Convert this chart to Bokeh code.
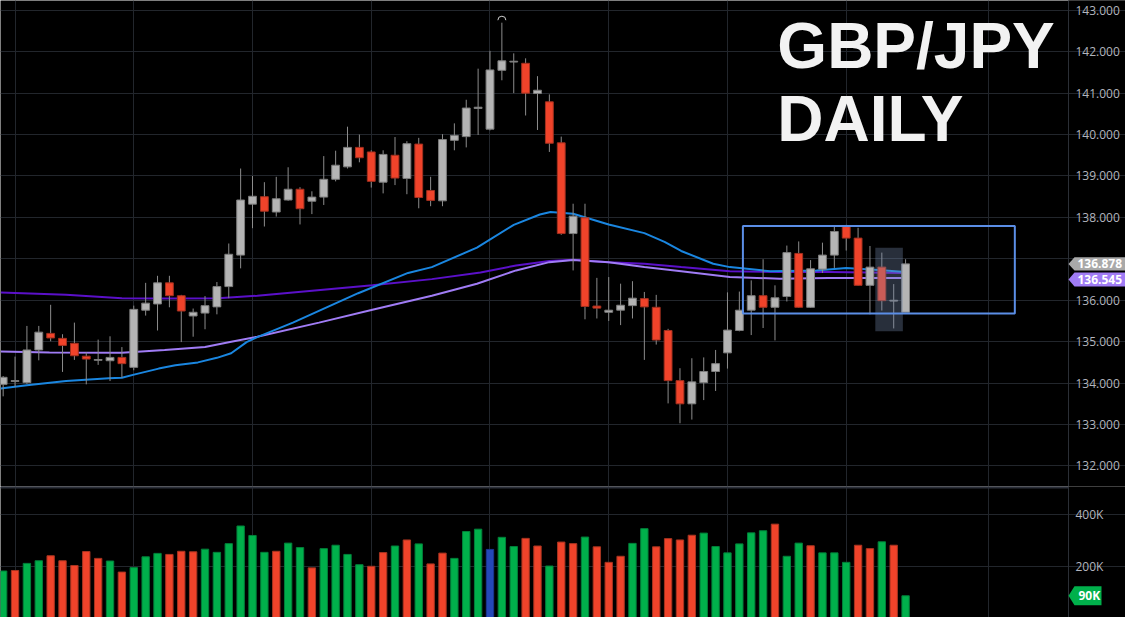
import math
from bokeh.plotting import figure
from bokeh.layouts import column
from bokeh.models import (Range1d, FixedTicker, Span, Label, PolyAnnotation,
                          BoxAnnotation, ColumnDataSource)
from bokeh.core.properties import value
from bokeh.embed import file_html
from bokeh.resources import INLINE

# ---------------- data ----------------
opens = [133.97, 134.04, 134.01, 134.80, 135.20, 135.08, 134.96, 134.65, 134.55, 134.54,
         134.62, 134.38, 135.76, 135.91, 136.42, 136.11, 135.62, 135.69, 135.84, 136.33,
         137.09, 138.32, 138.50, 138.13, 138.42, 138.68, 138.39, 138.49, 138.92, 139.22,
         139.69, 139.58, 138.85, 139.50, 138.94, 139.77, 138.65, 138.40, 139.86, 139.95,
         140.63, 140.13, 141.55, 141.75, 141.72, 140.99, 140.79, 139.80, 137.61, 137.99,
         135.86, 135.71, 135.76, 135.87, 136.04, 135.83, 135.27, 134.06, 133.50, 134.01,
         134.28, 134.73, 135.27, 135.76, 136.11, 135.83, 136.09, 137.13, 135.83, 136.75,
         137.09, 137.78, 137.50, 136.36, 136.80, 135.98, 135.71]
highs = [134.17, 134.64, 135.38, 135.38, 135.89, 135.18, 135.46, 134.74, 135.05, 135.13,
         134.87, 135.87, 136.42, 136.59, 136.59, 136.13, 135.80, 136.10, 136.44, 137.37,
         139.18, 139.00, 138.85, 138.98, 139.21, 138.73, 138.63, 139.48, 139.61, 140.19,
         140.00, 139.62, 139.62, 139.94, 139.84, 139.92, 138.98, 140.01, 140.27, 140.84,
         141.59, 142.02, 142.70, 141.96, 141.84, 141.41, 140.97, 139.95, 138.33, 138.33,
         136.54, 136.56, 136.40, 136.46, 136.20, 136.13, 135.31, 134.36, 134.60, 134.62,
         134.80, 136.19, 136.21, 136.48, 136.99, 136.36, 137.32, 137.42, 136.97, 137.39,
         137.78, 137.82, 137.75, 137.31, 137.15, 136.39, 136.99]
lows = [133.68, 133.91, 133.98, 134.55, 135.01, 134.27, 134.56, 133.97, 134.44, 134.05,
        134.13, 134.31, 135.63, 135.27, 135.83, 134.99, 135.12, 135.30, 135.66, 136.05,
        136.77, 137.74, 137.78, 138.02, 138.40, 137.83, 138.08, 138.30, 138.87, 139.18,
        139.33, 138.72, 138.58, 138.78, 138.56, 138.22, 138.27, 138.27, 139.62, 139.69,
        139.99, 140.10, 141.31, 141.00, 140.46, 140.11, 139.58, 137.58, 136.72, 135.54,
        135.56, 135.50, 135.40, 135.56, 134.56, 134.93, 133.51, 133.03, 133.12, 133.59,
        133.81, 134.35, 135.25, 135.16, 135.33, 135.03, 135.97, 135.82, 135.82, 136.66,
        136.78, 137.20, 136.35, 135.66, 135.75, 135.32, 135.71]
closes = [134.14, 134.06, 134.80, 135.23, 135.09, 134.91, 134.66, 134.58, 134.57, 134.62,
          134.47, 135.78, 135.93, 136.42, 136.11, 135.74, 135.71, 135.87, 136.33, 137.11,
          138.42, 138.51, 138.15, 138.45, 138.68, 138.21, 138.49, 138.92, 139.26, 139.69,
          139.44, 138.87, 139.52, 138.95, 139.78, 138.48, 138.41, 139.88, 139.98, 140.64,
          140.66, 141.56, 141.78, 141.77, 141.00, 141.07, 139.79, 137.61, 138.03, 135.85,
          135.81, 135.76, 135.88, 136.05, 135.84, 135.04, 134.06, 133.50, 134.03, 134.28,
          134.47, 135.28, 135.76, 136.11, 135.83, 136.06, 137.15, 135.83, 136.76, 137.09,
          137.66, 137.50, 136.36, 136.80, 135.99, 136.00, 136.878]

# volume in thousands and its colour class
volumes = [184, 186, 213, 223, 242, 223, 205, 258, 232, 222,
           180, 197, 238, 251, 247, 259, 257, 267, 255, 288,
           355, 319, 255, 259, 290, 273, 196, 269, 282, 247,
           208, 202, 254, 279, 302, 287, 211, 252, 232, 334,
           343, 266, 312, 277, 308, 279, 203, 294, 288, 313,
           276, 217, 240, 289, 345, 276, 307, 302, 320, 328,
           277, 253, 287, 329, 337, 362, 240, 290, 280, 253,
           253, 217, 282, 269, 295, 282, 90]
vol_dir = list("grggrrrrrgrgggrrrggggggrggrggggrrgrgrrgggb"
               "ggrrgrrgrrrggrrrrggggggrggrgggrrgrgg")

# moving averages read at sample points (bar index, price)
ma_fast_idx = [-0.2, 2.0, 5.3, 8.9, 10.0, 11.1, 13.1, 14.5, 16.4, 18.0, 19.2, 20.5, 21.4,
               24.4, 29.9, 34.1, 36.1, 39.9, 43.0, 45.2, 46.1, 48.0, 51.0, 54.0, 55.7,
               57.1, 59.8, 61.2, 64.6, 68.5, 71.0, 73.7, 76.0]
ma_fast_val = [133.87, 133.95, 134.05, 134.12, 134.13, 134.21, 134.35, 134.43, 134.50, 134.61,
               134.72, 134.99, 135.11, 135.46, 136.17, 136.66, 136.80, 137.27, 137.82, 138.07,
               138.13, 138.09, 137.83, 137.62, 137.41, 137.19, 136.88, 136.80, 136.70, 136.72,
               136.78, 136.73, 136.68]
ma_slow_idx = [-0.2, 5.3, 10.0, 13.6, 18.1, 21.4, 24.4, 31.1, 36.1, 40.2, 43.2, 46.0, 48.0,
               51.0, 54.0, 57.1, 61.2, 65.4, 69.5, 76.0]
ma_slow_val = [136.19, 136.13, 136.05, 136.04, 136.05, 136.11, 136.19, 136.36, 136.51, 136.67,
               136.84, 136.95, 136.98, 136.92, 136.88, 136.80, 136.70, 136.68, 136.68, 136.66]
ma_mid_idx = [-0.2, 3.9, 10.0, 13.6, 17.0, 19.1, 21.4, 26.6, 31.1, 36.1, 39.9, 43.2, 46.0,
              48.0, 51.0, 54.0, 57.1, 61.2, 65.4, 69.5, 76.0]
ma_mid_val = [134.76, 134.74, 134.73, 134.80, 134.87, 134.99, 135.12, 135.46, 135.77, 136.11,
              136.40, 136.72, 136.92, 136.97, 136.92, 136.80, 136.70, 136.56, 136.52, 136.54,
              136.54]

# price scale: grid at every unit; the 137 label is hidden behind the badges
price_grid = [132, 133, 134, 135, 136, 137, 138, 139, 140, 141, 142, 143]
price_label_ticks = [132, 133, 134, 135, 136, 138, 139, 140, 141, 142, 143]
price_tick_labels = ["132.000", "133.000", "134.000", "135.000", "136.000",
                     "138.000", "139.000", "140.000", "141.000", "142.000", "143.000"]
vol_ticks = [200, 400]
vol_tick_labels = ["200K", "400K"]
grid_days = [1, 11, 21, 31, 41, 51, 61, 71, 83]

last_price = 136.878
last_ma_mid = 136.545
last_volume = 90
peak_index = 42

# annotation regions (data coordinates)
range_box = dict(left=62.3, right=85.2, top=137.79, bottom=135.68)
focus_box = dict(left=73.45, right=75.77, top=137.27, bottom=135.25)

# ---------------- styles / geometry ----------------
BG = "#000000"
GRID = "#22262c"
AXIS_TXT = "#b2b5be"
AXIS_LINE = "#2b2f36"
UP_FILL, UP_LINE = "#b4b4b4", "#7c7c7c"
DN_FILL, DN_LINE = "#f0432a", "#a3301f"
WICK = "#8c8c8c"
VOL_COL = {"g": "#00b04b", "r": "#f0432a", "b": "#2548b8"}
VOL_LINE = {"g": "#00803a", "r": "#a83420", "b": "#1a3590"}

W = 1125
PX_PER_BAR = 11.874
X0 = -0.224
AXIS_X = X0 + 1068 / PX_PER_BAR           # price-scale border
XR = Range1d(X0, X0 + W / PX_PER_BAR)
px = 1.0 / PX_PER_BAR                     # one pixel in bar units

n = len(closes)
xs = list(range(n))
src = ColumnDataSource(dict(
    x=xs, o=opens, h=highs, l=lows, c=closes,
    top=[max(a, b) for a, b in zip(opens, closes)],
    bot=[min(a, b) for a, b in zip(opens, closes)],
    fill=[UP_FILL if c >= o else DN_FILL for o, c in zip(opens, closes)],
    line=[UP_LINE if c >= o else DN_LINE for o, c in zip(opens, closes)],
))


def make_fig(height, yr):
    fig = figure(width=W, height=height, x_range=XR, y_range=yr,
                 x_axis_location=None, y_axis_location=None, output_backend="svg",
                 toolbar_location=None, background_fill_color=BG, border_fill_color=BG,
                 outline_line_color=None, min_border=0)
    fig.xgrid.ticker = FixedTicker(ticks=grid_days)
    fig.xgrid.grid_line_color = GRID
    fig.ygrid.grid_line_color = GRID
    return fig


def price_scale(fig, grid_ticks, label_ticks, labels):
    fig.ygrid.ticker = FixedTicker(ticks=grid_ticks)
    # price-scale panel (covers the grid on the right)
    fig.quad(left=AXIS_X, right=XR.end + 1, bottom=fig.y_range.start - 1000,
             top=fig.y_range.end + 1000, fill_color=BG, line_color=None, level="underlay")
    fig.add_layout(Span(location=AXIS_X, dimension="height", line_color=AXIS_LINE, line_width=1))
    fig.text(x=[AXIS_X + 7 * px] * len(label_ticks), y=label_ticks, text=labels,
             text_font=value("Open Sans"), text_font_size="12px", text_color=AXIS_TXT,
             text_baseline="middle", text_align="left")


def badge(fig, yc, half, color, text, width_px=57, tx_px=9):
    r = AXIS_X + width_px * px
    fig.add_layout(PolyAnnotation(xs=[AXIS_X, AXIS_X + 6 * px, r, r, AXIS_X + 6 * px],
                                  ys=[yc, yc + half, yc + half, yc - half, yc - half],
                                  fill_color=color, fill_alpha=1.0, line_color=None))
    fig.add_layout(Label(x=AXIS_X + tx_px * px, y=yc, text=text, text_font="Open Sans",
                         text_font_size="12px", text_font_style="bold",
                         text_color="#ffffff", text_baseline="middle"))


# ---------------- price pane ----------------
p = make_fig(486, Range1d(131.504, 143.236))
price_scale(p, price_grid, price_label_ticks, price_tick_labels)

p.line(ma_slow_idx, ma_slow_val, line_color="#5b10c9", line_width=2)
p.line(ma_mid_idx, ma_mid_val, line_color="#a07cf5", line_width=2)
p.line(ma_fast_idx, ma_fast_val, line_color="#1a86e0", line_width=2)

p.segment(x0="x", y0="l", x1="x", y1="h", source=src, line_color=WICK, line_width=1)
p.vbar(x="x", top="top", bottom="bot", width=0.66, source=src,
       fill_color="fill", line_color="line", line_width=1)

p.arc(x=[peak_index], y=[highs[peak_index] + 0.06], radius=4, radius_units="screen",
      start_angle=0, end_angle=math.pi, line_color="#cfcfcf", line_width=1)

p.add_layout(BoxAnnotation(fill_color="#7890b4", fill_alpha=0.33, line_color=None, **focus_box))
p.add_layout(BoxAnnotation(fill_color=None, fill_alpha=0, line_color="#5b8ee6",
                           line_alpha=1.0, line_width=2, **range_box))

for txt, yb in (("GBP/JPY", 142.14), ("DAILY", 140.38)):
    p.add_layout(Label(x=65.2, y=yb, text=txt, text_font="Liberation Sans",
                       text_font_size="64px", text_font_style="bold",
                       text_color="#f2f2f2", text_baseline="alphabetic"))

badge(p, 136.50, 0.17, "#a07cf5", f"{last_ma_mid:.3f}")
badge(p, last_price, 0.16, "#a9a9a9", f"{last_price:.3f}")

# ---------------- volume pane ----------------
v = make_fig(131, Range1d(7.5, 505))
price_scale(v, vol_ticks, vol_ticks, vol_tick_labels)

vsrc = ColumnDataSource(dict(x=xs, v=volumes,
                             fill=[VOL_COL[d] for d in vol_dir],
                             line=[VOL_LINE[d] for d in vol_dir]))
v.vbar(x="x", top="v", bottom=0, width=0.62, source=vsrc, fill_color="fill",
       line_color="line", line_width=1)
v.segment(x0=[X0], y0=[503], x1=[AXIS_X], y1=[503], line_color="#2a2e39", line_width=3)

badge(v, last_volume, 36, "#00b04b", f"{last_volume}K", width_px=33, tx_px=10)

layout = column(p, v, spacing=0)
open("out.html", "w").write(file_html(layout, INLINE))
